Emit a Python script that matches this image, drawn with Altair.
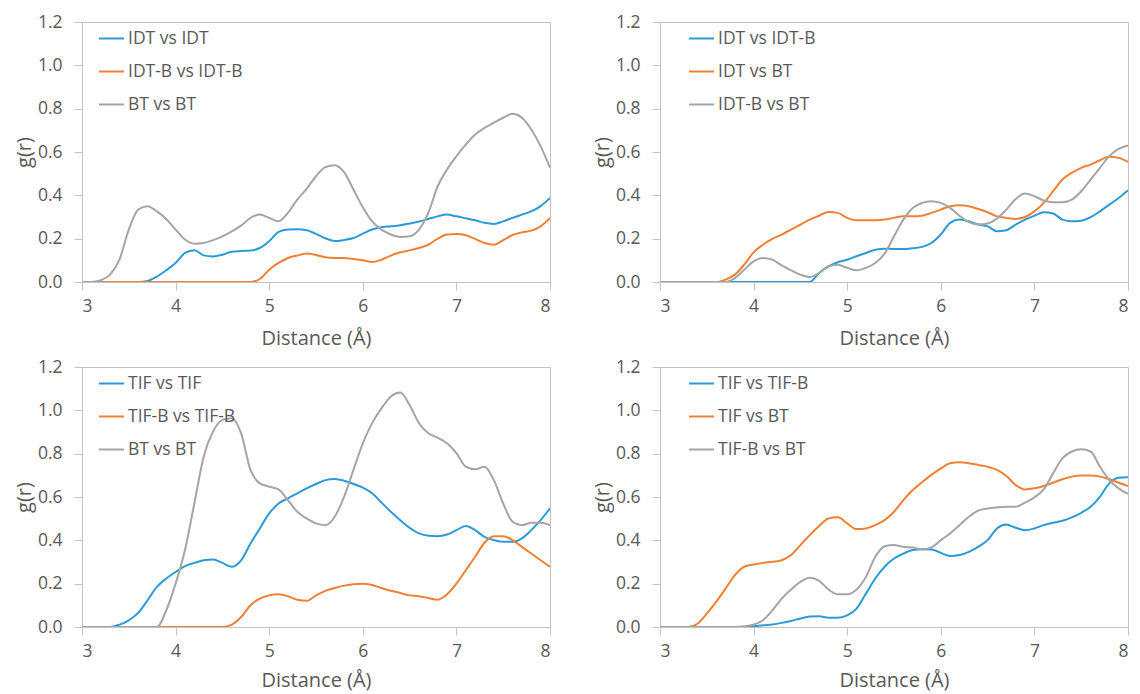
import altair as alt
import pandas as pd

# x grid (Å)
distance = [3.0, 3.1, 3.2, 3.3, 3.4, 3.5, 3.6, 3.7, 3.8, 3.9,
            4.0, 4.1, 4.2, 4.3, 4.4, 4.5, 4.6, 4.7, 4.8, 4.9,
            5.0, 5.1, 5.2, 5.3, 5.4, 5.5, 5.6, 5.7, 5.8, 5.9,
            6.0, 6.1, 6.2, 6.3, 6.4, 6.5, 6.6, 6.7, 6.8, 6.9,
            7.0, 7.1, 7.2, 7.3, 7.4, 7.5, 7.6, 7.7, 7.8, 7.9, 8.0]

# Panel 1
p1_names = ["IDT vs IDT", "IDT-B vs IDT-B", "BT vs BT"]
p1_blue = [0, 0, 0, 0, 0, 0, 0, 0.005, 0.025, 0.054,
           0.088, 0.134, 0.147, 0.123, 0.118, 0.126, 0.14, 0.143, 0.145, 0.157,
           0.188, 0.231, 0.242, 0.243, 0.239, 0.222, 0.202, 0.189, 0.194, 0.203,
           0.223, 0.242, 0.253, 0.257, 0.262, 0.27, 0.279, 0.291, 0.303, 0.311,
           0.303, 0.294, 0.285, 0.273, 0.268, 0.28, 0.296, 0.311, 0.326, 0.35, 0.388]
p1_orange = [0, 0, 0, 0, 0, 0, 0, 0, 0, 0,
             0, 0, 0, 0, 0, 0, 0, 0, 0, 0.014,
             0.057, 0.088, 0.111, 0.122, 0.131, 0.125, 0.114, 0.111, 0.111, 0.106,
             0.1, 0.092, 0.103, 0.122, 0.137, 0.146, 0.157, 0.172, 0.2, 0.219,
             0.222, 0.216, 0.199, 0.18, 0.172, 0.193, 0.217, 0.229, 0.237, 0.257, 0.296]
p1_gray = [0, 0, 0.008, 0.034, 0.103, 0.242, 0.334, 0.35, 0.326, 0.291,
           0.242, 0.196, 0.177, 0.18, 0.193, 0.211, 0.234, 0.26, 0.296, 0.311,
           0.296, 0.28, 0.319, 0.38, 0.43, 0.488, 0.53, 0.539, 0.507, 0.427,
           0.345, 0.28, 0.242, 0.219, 0.208, 0.211, 0.242, 0.319, 0.442, 0.519,
           0.581, 0.634, 0.681, 0.711, 0.735, 0.758, 0.776, 0.758, 0.704, 0.627, 0.527]

# Panel 2
p2_names = ["IDT vs IDT-B", "IDT vs BT", "IDT-B vs BT"]
p2_blue = [0, 0, 0, 0, 0, 0, 0, 0, 0, 0,
           0, 0, 0, 0, 0, 0, 0, 0.042, 0.072, 0.091,
           0.103, 0.119, 0.134, 0.149, 0.154, 0.152, 0.152, 0.156, 0.162, 0.18,
           0.219, 0.273, 0.288, 0.28, 0.265, 0.257, 0.234, 0.239, 0.265, 0.288,
           0.306, 0.322, 0.316, 0.288, 0.28, 0.283, 0.299, 0.326, 0.357, 0.388, 0.424]
p2_orange = [0, 0, 0, 0, 0, 0, 0, 0.011, 0.034, 0.08,
             0.137, 0.172, 0.199, 0.219, 0.242, 0.265, 0.288, 0.306, 0.323, 0.319,
             0.296, 0.285, 0.285, 0.285, 0.288, 0.296, 0.303, 0.303, 0.306, 0.319,
             0.334, 0.35, 0.354, 0.35, 0.337, 0.322, 0.303, 0.296, 0.291, 0.3,
             0.326, 0.365, 0.419, 0.473, 0.504, 0.527, 0.542, 0.562, 0.578, 0.573, 0.554]
p2_gray = [0, 0, 0, 0, 0, 0, 0, 0, 0.018, 0.057,
           0.095, 0.111, 0.103, 0.077, 0.054, 0.034, 0.023, 0.042, 0.072, 0.08,
           0.065, 0.054, 0.065, 0.088, 0.131, 0.211, 0.288, 0.342, 0.365, 0.373,
           0.365, 0.342, 0.306, 0.276, 0.265, 0.27, 0.293, 0.334, 0.383, 0.408,
           0.396, 0.376, 0.368, 0.368, 0.38, 0.419, 0.473, 0.527, 0.581, 0.614, 0.63]

# Panel 3
p3_names = ["TIF vs TIF", "TIF-B vs TIF-B", "BT vs BT"]
p3_blue = [0, 0, 0, 0, 0.011, 0.031, 0.065, 0.123, 0.185, 0.224,
           0.254, 0.281, 0.296, 0.308, 0.311, 0.296, 0.278, 0.308, 0.385, 0.455,
           0.524, 0.57, 0.594, 0.617, 0.64, 0.66, 0.678, 0.683, 0.675, 0.66,
           0.643, 0.617, 0.574, 0.532, 0.493, 0.458, 0.432, 0.421, 0.419, 0.427,
           0.447, 0.466, 0.447, 0.416, 0.401, 0.393, 0.393, 0.409, 0.447, 0.493, 0.547]
p3_orange = [0, 0, 0, 0, 0, 0, 0, 0, 0, 0,
             0, 0, 0, 0, 0, 0, 0.011, 0.046, 0.1, 0.131,
             0.146, 0.151, 0.142, 0.126, 0.121, 0.146, 0.167, 0.18, 0.191, 0.197,
             0.2, 0.194, 0.18, 0.167, 0.157, 0.146, 0.142, 0.134, 0.126, 0.151,
             0.2, 0.262, 0.324, 0.389, 0.419, 0.419, 0.401, 0.37, 0.339, 0.308, 0.278]
p3_gray = [0, 0, 0, 0, 0, 0, 0, 0, 0, 0.077,
           0.2, 0.355, 0.57, 0.786, 0.902, 0.956, 0.964, 0.894, 0.725, 0.663,
           0.648, 0.635, 0.586, 0.532, 0.501, 0.478, 0.47, 0.509, 0.601, 0.725,
           0.848, 0.941, 1.01, 1.064, 1.082, 1.025, 0.941, 0.894, 0.874, 0.848,
           0.802, 0.74, 0.728, 0.74, 0.678, 0.57, 0.486, 0.47, 0.481, 0.481, 0.47]

# Panel 4
p4_names = ["TIF vs TIF-B", "TIF vs BT", "TIF-B vs BT"]
p4_blue = [0, 0, 0, 0, 0, 0, 0, 0, 0, 0,
           0.003, 0.008, 0.012, 0.019, 0.028, 0.039, 0.049, 0.05, 0.043, 0.043,
           0.054, 0.085, 0.154, 0.224, 0.278, 0.316, 0.339, 0.355, 0.359, 0.358,
           0.342, 0.328, 0.332, 0.347, 0.37, 0.401, 0.455, 0.473, 0.458, 0.447,
           0.455, 0.47, 0.481, 0.49, 0.506, 0.527, 0.555, 0.601, 0.663, 0.689, 0.691]
p4_orange = [0, 0, 0, 0, 0.015, 0.062, 0.116, 0.177, 0.239, 0.278,
             0.288, 0.296, 0.301, 0.308, 0.332, 0.378, 0.424, 0.466, 0.501, 0.506,
             0.478, 0.452, 0.455, 0.47, 0.493, 0.532, 0.586, 0.632, 0.668, 0.702,
             0.732, 0.756, 0.76, 0.756, 0.748, 0.74, 0.725, 0.697, 0.655, 0.635,
             0.64, 0.651, 0.666, 0.682, 0.694, 0.699, 0.699, 0.694, 0.682, 0.666, 0.651]
p4_gray = [0, 0, 0, 0, 0, 0, 0, 0, 0, 0.003,
           0.011, 0.031, 0.077, 0.131, 0.173, 0.208, 0.227, 0.213, 0.173, 0.151,
           0.151, 0.173, 0.231, 0.324, 0.373, 0.378, 0.37, 0.367, 0.358, 0.367,
           0.401, 0.432, 0.47, 0.509, 0.537, 0.547, 0.552, 0.555, 0.555, 0.574,
           0.598, 0.635, 0.709, 0.779, 0.81, 0.82, 0.81, 0.74, 0.678, 0.64, 0.614]

x_ticks = [3, 4, 5, 6, 7, 8]
y_ticks = [0.0, 0.2, 0.4, 0.6, 0.8, 1.0, 1.2]
colors = ["#2B9BD8", "#F28033", "#A5A5A5"]

FONT = "Open Sans"
TXT = "#595959"
LINE = "#C4C4C4"


def panel(names, series, legend_x, title_pad):
    rows = []
    for name, vals in zip(names, series):
        for xv, yv in zip(distance, vals):
            rows.append({"x": xv, "g": yv, "series": name})
    df = pd.DataFrame(rows)
    return alt.Chart(df).mark_line(
        interpolate="monotone", strokeWidth=2, clip=True
    ).encode(
        x=alt.X("x:Q", title="Distance (Å)",
                scale=alt.Scale(domain=[3, 8], nice=False, zero=False),
                axis=alt.Axis(values=x_ticks, format="d", grid=False,
                              tickSize=8, labelPadding=7, titlePadding=title_pad,
                              labelFontSize=17.5, titleFontSize=20)),
        y=alt.Y("g:Q", title="g(r)",
                scale=alt.Scale(domain=[0, 1.2], nice=False),
                axis=alt.Axis(values=y_ticks, format=".1f", grid=False,
                              tickSize=8, labelPadding=12, titlePadding=0,
                              minExtent=48, maxExtent=48,
                              labelFontSize=17.5, titleFontSize=20)),
        color=alt.Color("series:N",
                        scale=alt.Scale(domain=names, range=colors),
                        legend=alt.Legend(title=None, orient="none",
                                          legendX=legend_x, legendY=3,
                                          symbolType="stroke", symbolSize=625,
                                          symbolStrokeWidth=2, labelFontSize=17.5,
                                          labelColor=TXT, labelFont=FONT,
                                          rowPadding=11, padding=0,
                                          labelOffset=3)),
        order=alt.Order("x:Q"),
    ).properties(width=468, height=260)


c1 = panel(p1_names, [p1_blue, p1_orange, p1_gray], 16, 14)
c2 = panel(p2_names, [p2_blue, p2_orange, p2_gray], 28, 14)
c3 = panel(p3_names, [p3_blue, p3_orange, p3_gray], 16, 11)
c4 = panel(p4_names, [p4_blue, p4_orange, p4_gray], 28, 11)

row1 = alt.hconcat(c1, c2, spacing=40).resolve_scale(color="independent")
row2 = alt.hconcat(c3, c4, spacing=40).resolve_scale(color="independent")

chart = alt.vconcat(row1, row2, spacing=8).resolve_scale(
    color="independent"
).properties(
    padding={"left": 5, "top": 4, "right": 0, "bottom": 5},
    background="white",
).configure_view(
    stroke=LINE, strokeWidth=1
).configure_axis(
    labelFont=FONT, titleFont=FONT, labelColor=TXT, titleColor=TXT,
    titleFontWeight="normal", domainColor=LINE, tickColor=LINE,
    domainWidth=1, tickWidth=1
)

chart.save("out.html", embed_options={"renderer": "svg", "actions": False})
